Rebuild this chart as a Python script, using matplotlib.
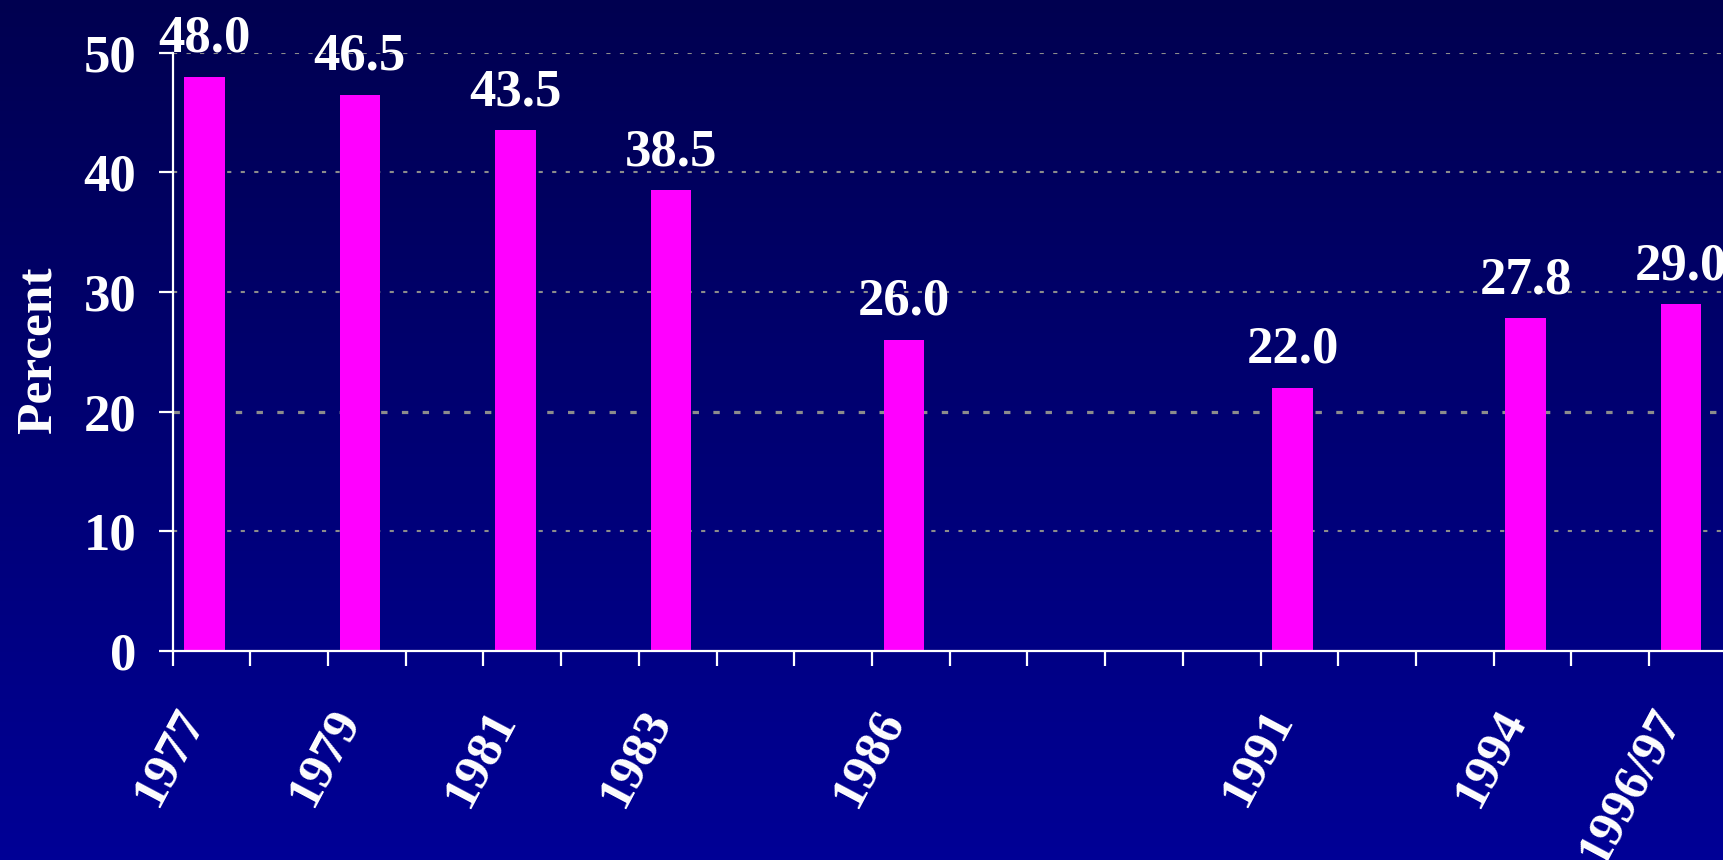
import numpy as np
import matplotlib
matplotlib.use("Agg")
import matplotlib.pyplot as plt

# data
labels = ["1977", "1979", "1981", "1983", "1986", "1991", "1994", "1996/97"]
years = [1977, 1979, 1981, 1983, 1986, 1991, 1994, 1996]
values = [48.0, 46.5, 43.5, 38.5, 26.0, 22.0, 27.8, 29.0]
y_ticks = [0, 10, 20, 30, 40, 50]

plt.rcParams["font.family"] = ["Liberation Serif", "DejaVu Serif"]
plt.rcParams["font.weight"] = "bold"

fig = plt.figure(figsize=(17.24, 8.6), dpi=100)

# vertical gradient background (dark navy at top, brighter blue at bottom)
bg = fig.add_axes([0, 0, 1, 1], zorder=-1)
grad = np.linspace(0, 1, 256).reshape(-1, 1)
top = np.array([0, 0, 0x50]) / 255
bottom = np.array([0, 0, 0x96]) / 255
img = top + grad[:, :, None] * (bottom - top)
bg.imshow(img, aspect="auto", extent=[0, 1, 0, 1], origin="upper")
bg.set_axis_off()

ax = fig.add_axes([0.1001, 0.243, 0.9016, 0.6957])
ax.patch.set_alpha(0)

offset = 0.41
x0 = years[0] - offset
ax.set_xlim(x0, x0 + 20)
ax.set_ylim(0, 50)

# dotted grid lines
for t in y_ticks[1:]:
    ax.axhline(t, color="#8c8c8c", lw=2.3 if t == 20 else 1.5,
               linestyle=(0, (2, 4.5)), zorder=1)

ax.bar(years, values, width=0.52, color="#ff00ff", zorder=2)

for x, v in zip(years, values):
    ax.annotate(f"{v:.1f}", (x, v), xytext=(0, 18), textcoords="offset points",
                ha="center", va="baseline", color="white", fontsize=38,
                fontweight="bold", zorder=3, annotation_clip=False)

for s in ["top", "right"]:
    ax.spines[s].set_visible(False)
for s in ["left", "bottom"]:
    ax.spines[s].set_color("white")
    ax.spines[s].set_linewidth(1.6)

ax.set_yticks(y_ticks)
ax.set_yticklabels([str(t) for t in y_ticks], fontsize=38, color="white")
ax.tick_params(axis="y", length=10, width=1.6, color="white", pad=16)

ax.set_xticks(years)
ax.set_xticklabels(labels, fontsize=37, color="white", rotation=62,
                   ha="right", va="baseline", rotation_mode="anchor")
ax.tick_params(axis="x", which="major", length=0, pad=48)
ax.set_xticks(np.arange(x0, x0 + 20, 1), minor=True)
ax.tick_params(axis="x", which="minor", length=11, width=1.6, color="white")

fig.text(0.0223, 0.593, "Percent", rotation=90, ha="center", va="center",
         fontsize=37, color="white", fontweight="bold")

fig.savefig("out.png", dpi=100)
